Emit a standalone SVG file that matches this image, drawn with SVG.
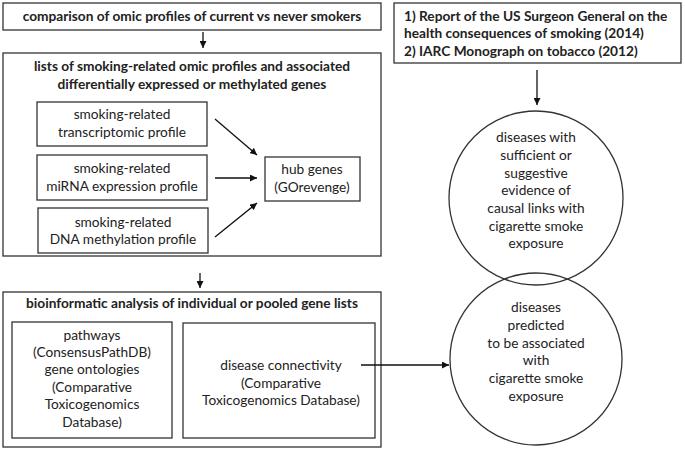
<svg xmlns="http://www.w3.org/2000/svg" width="685" height="450" viewBox="0 0 685 450">
<style>
text{font-family:Lato,"Open Sans","Liberation Sans",sans-serif;font-size:13.7px;fill:#222;text-anchor:middle}
.b{font-weight:bold}
.l{text-anchor:start}
rect,circle{fill:none;stroke:#333;stroke-width:1.3}
.c line{stroke:#111;stroke-width:1.3;marker-end:url(#ah)}
</style>
<defs>
<marker id="ah" viewBox="0 0 10 10" refX="10" refY="5" markerWidth="7" markerHeight="7" markerUnits="userSpaceOnUse" orient="auto"><path d="M0,0 L10,5 L0,10 z" fill="#111"/></marker>
</defs>
<g id="top"><rect x="3" y="3" width="378" height="27"/><text class="b" x="192" y="21">comparison of omic profiles of current vs never smokers</text></g>
<g id="lists"><rect x="3" y="53" width="378" height="203"/>
<text class="b" x="192" y="71">lists of smoking-related omic profiles and associated</text>
<text class="b" x="192" y="89">differentially expressed or methylated genes</text></g>
<g id="trans"><rect x="37" y="102" width="170" height="44"/><text x="122" y="119">smoking-related</text><text x="122" y="137">transcriptomic profile</text></g>
<g id="mirna"><rect x="37" y="155" width="170" height="45"/><text x="122" y="173">smoking-related</text><text x="122" y="191">miRNA expression profile</text></g>
<g id="dna"><rect x="38" y="208" width="170" height="45"/><text x="123" y="227">smoking-related</text><text x="123" y="244">DNA methylation profile</text></g>
<g id="hub"><rect x="265" y="157" width="95" height="44"/><text x="312" y="174">hub genes</text><text x="312" y="192">(GOrevenge)</text></g>
<g id="bio"><rect x="3" y="292" width="378" height="155"/><text class="b" x="192" y="308">bioinformatic analysis of individual or pooled gene lists</text></g>
<g id="path"><rect x="12" y="322" width="160" height="116"/>
<text x="92" y="340">pathways</text><text x="92" y="357">(ConsensusPathDB)</text><text x="92" y="374">gene ontologies</text><text x="92" y="392">(Comparative</text><text x="92" y="409">Toxicogenomics</text><text x="92" y="427">Database)</text></g>
<g id="dis"><rect x="183" y="323" width="192" height="115"/>
<text x="281" y="370">disease connectivity</text><text x="281" y="388">(Comparative</text><text x="281" y="405">Toxicogenomics Database)</text></g>
<g id="report"><rect x="394" y="3" width="287" height="60"/>
<text class="b l" x="404" y="21">1) Report of the US Surgeon General on the</text>
<text class="b l" x="404" y="38">health consequences of smoking (2014)</text>
<text class="b l" x="404" y="56">2) IARC Monograph on tobacco (2012)</text></g>
<g id="c1"><circle cx="536" cy="198" r="87"/>
<text x="536" y="142">diseases with</text><text x="536" y="160">sufficient or</text><text x="536" y="178">suggestive</text><text x="536" y="195">evidence of</text><text x="536" y="213">causal links with</text><text x="536" y="231">cigarette smoke</text><text x="536" y="248">exposure</text></g>
<g id="c2"><circle cx="536" cy="359" r="86"/>
<text x="536" y="312">diseases</text><text x="536" y="330">predicted</text><text x="536" y="348">to be associated</text><text x="536" y="365">with</text><text x="536" y="383">cigarette smoke</text><text x="536" y="401">exposure</text></g>
<g id="connectors" class="c">
<line x1="203" y1="32" x2="203" y2="48"/>
<line x1="200" y1="273" x2="200" y2="288"/>
<line x1="537" y1="70" x2="537" y2="105"/>
<line x1="215" y1="119" x2="257" y2="155"/>
<line x1="215" y1="178" x2="257" y2="178"/>
<line x1="215" y1="237" x2="257" y2="203"/>
<line x1="361" y1="365" x2="449" y2="365"/>
</g>
</svg>
